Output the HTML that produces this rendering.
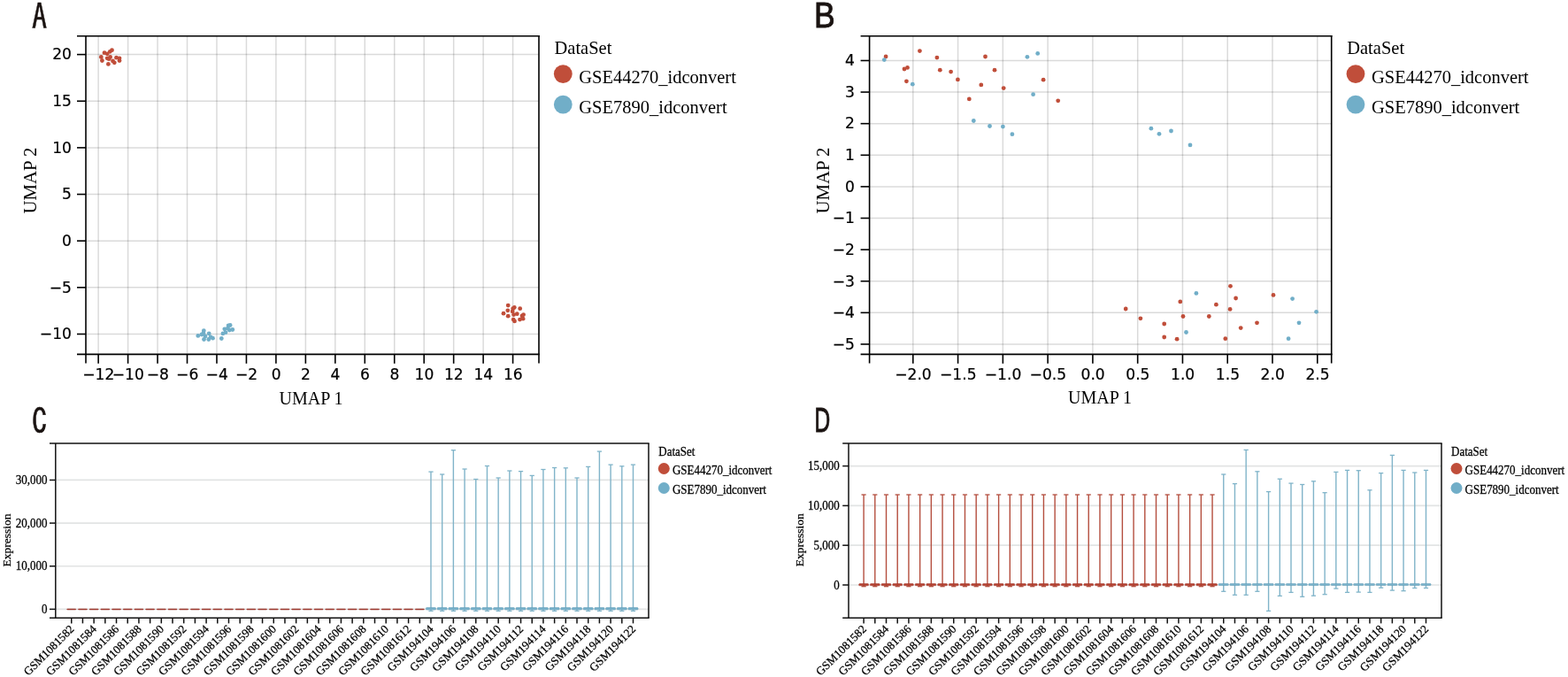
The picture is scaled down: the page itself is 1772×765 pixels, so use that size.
<!DOCTYPE html>
<html><head><meta charset="utf-8"><title>Figure</title>
<style>
html,body{margin:0;padding:0;background:#fff;}
svg{display:block;}
.tk{font-family:"DejaVu Sans",sans-serif;font-size:17.1px;fill:#000;stroke:#000;stroke-width:0.2px;}
.al{font-family:"Liberation Serif",serif;font-size:20px;fill:#000;}
.lg{font-family:"Liberation Serif",serif;font-size:20.5px;fill:#000;}
.sm{font-family:"Liberation Serif",serif;font-size:13px;fill:#000;stroke:#000;stroke-width:0.25px;}
.pl{font-family:"Liberation Sans",sans-serif;fill:#1a1311;}
</style></head>
<body>
<svg width="1772" height="765" viewBox="0 0 1772 765">
<rect width="1772" height="765" fill="#fff"/>
<line x1="111.14" y1="40.70" x2="111.14" y2="400.40" stroke="rgba(0,0,0,0.145)" stroke-width="1.5"/>
<line x1="144.60" y1="40.70" x2="144.60" y2="400.40" stroke="rgba(0,0,0,0.145)" stroke-width="1.5"/>
<line x1="178.06" y1="40.70" x2="178.06" y2="400.40" stroke="rgba(0,0,0,0.145)" stroke-width="1.5"/>
<line x1="211.52" y1="40.70" x2="211.52" y2="400.40" stroke="rgba(0,0,0,0.145)" stroke-width="1.5"/>
<line x1="244.98" y1="40.70" x2="244.98" y2="400.40" stroke="rgba(0,0,0,0.145)" stroke-width="1.5"/>
<line x1="278.44" y1="40.70" x2="278.44" y2="400.40" stroke="rgba(0,0,0,0.145)" stroke-width="1.5"/>
<line x1="311.90" y1="40.70" x2="311.90" y2="400.40" stroke="rgba(0,0,0,0.145)" stroke-width="1.5"/>
<line x1="345.36" y1="40.70" x2="345.36" y2="400.40" stroke="rgba(0,0,0,0.145)" stroke-width="1.5"/>
<line x1="378.82" y1="40.70" x2="378.82" y2="400.40" stroke="rgba(0,0,0,0.145)" stroke-width="1.5"/>
<line x1="412.28" y1="40.70" x2="412.28" y2="400.40" stroke="rgba(0,0,0,0.145)" stroke-width="1.5"/>
<line x1="445.74" y1="40.70" x2="445.74" y2="400.40" stroke="rgba(0,0,0,0.145)" stroke-width="1.5"/>
<line x1="479.20" y1="40.70" x2="479.20" y2="400.40" stroke="rgba(0,0,0,0.145)" stroke-width="1.5"/>
<line x1="512.66" y1="40.70" x2="512.66" y2="400.40" stroke="rgba(0,0,0,0.145)" stroke-width="1.5"/>
<line x1="546.12" y1="40.70" x2="546.12" y2="400.40" stroke="rgba(0,0,0,0.145)" stroke-width="1.5"/>
<line x1="579.58" y1="40.70" x2="579.58" y2="400.40" stroke="rgba(0,0,0,0.145)" stroke-width="1.5"/>
<line x1="97.00" y1="377.50" x2="609.00" y2="377.50" stroke="rgba(0,0,0,0.145)" stroke-width="1.5"/>
<line x1="97.00" y1="324.85" x2="609.00" y2="324.85" stroke="rgba(0,0,0,0.145)" stroke-width="1.5"/>
<line x1="97.00" y1="272.20" x2="609.00" y2="272.20" stroke="rgba(0,0,0,0.145)" stroke-width="1.5"/>
<line x1="97.00" y1="219.55" x2="609.00" y2="219.55" stroke="rgba(0,0,0,0.145)" stroke-width="1.5"/>
<line x1="97.00" y1="166.90" x2="609.00" y2="166.90" stroke="rgba(0,0,0,0.145)" stroke-width="1.5"/>
<line x1="97.00" y1="114.25" x2="609.00" y2="114.25" stroke="rgba(0,0,0,0.145)" stroke-width="1.5"/>
<line x1="97.00" y1="61.60" x2="609.00" y2="61.60" stroke="rgba(0,0,0,0.145)" stroke-width="1.5"/>
<circle cx="124.30" cy="58.30" r="2.4" fill="#C04E3A"/>
<circle cx="126.50" cy="56.70" r="2.4" fill="#C04E3A"/>
<circle cx="118.00" cy="59.70" r="2.4" fill="#C04E3A"/>
<circle cx="121.20" cy="60.80" r="2.4" fill="#C04E3A"/>
<circle cx="114.30" cy="64.40" r="2.4" fill="#C04E3A"/>
<circle cx="115.40" cy="68.50" r="2.4" fill="#C04E3A"/>
<circle cx="121.20" cy="65.80" r="2.4" fill="#C04E3A"/>
<circle cx="124.60" cy="64.50" r="2.4" fill="#C04E3A"/>
<circle cx="123.10" cy="66.70" r="2.4" fill="#C04E3A"/>
<circle cx="127.50" cy="68.90" r="2.4" fill="#C04E3A"/>
<circle cx="129.30" cy="70.80" r="2.4" fill="#C04E3A"/>
<circle cx="131.50" cy="65.20" r="2.4" fill="#C04E3A"/>
<circle cx="135.00" cy="65.80" r="2.4" fill="#C04E3A"/>
<circle cx="135.00" cy="68.60" r="2.4" fill="#C04E3A"/>
<circle cx="122.40" cy="72.40" r="2.4" fill="#C04E3A"/>
<circle cx="574.20" cy="345.10" r="2.4" fill="#C04E3A"/>
<circle cx="573.80" cy="350.80" r="2.4" fill="#C04E3A"/>
<circle cx="569.00" cy="354.20" r="2.4" fill="#C04E3A"/>
<circle cx="574.20" cy="357.20" r="2.4" fill="#C04E3A"/>
<circle cx="579.70" cy="348.70" r="2.4" fill="#C04E3A"/>
<circle cx="581.30" cy="347.40" r="2.4" fill="#C04E3A"/>
<circle cx="579.20" cy="351.90" r="2.4" fill="#C04E3A"/>
<circle cx="580.60" cy="355.60" r="2.4" fill="#C04E3A"/>
<circle cx="584.30" cy="354.70" r="2.4" fill="#C04E3A"/>
<circle cx="580.20" cy="361.10" r="2.4" fill="#C04E3A"/>
<circle cx="581.50" cy="362.90" r="2.4" fill="#C04E3A"/>
<circle cx="587.70" cy="348.70" r="2.4" fill="#C04E3A"/>
<circle cx="591.60" cy="355.60" r="2.4" fill="#C04E3A"/>
<circle cx="587.50" cy="361.10" r="2.4" fill="#C04E3A"/>
<circle cx="591.10" cy="360.20" r="2.4" fill="#C04E3A"/>
<circle cx="590.00" cy="357.00" r="2.4" fill="#C04E3A"/>
<circle cx="223.80" cy="379.40" r="2.4" fill="#71AEC8"/>
<circle cx="230.30" cy="373.70" r="2.4" fill="#71AEC8"/>
<circle cx="229.90" cy="376.50" r="2.4" fill="#71AEC8"/>
<circle cx="230.50" cy="383.50" r="2.4" fill="#71AEC8"/>
<circle cx="232.00" cy="380.00" r="2.4" fill="#71AEC8"/>
<circle cx="236.20" cy="376.90" r="2.4" fill="#71AEC8"/>
<circle cx="235.80" cy="383.50" r="2.4" fill="#71AEC8"/>
<circle cx="240.50" cy="382.20" r="2.4" fill="#71AEC8"/>
<circle cx="238.10" cy="380.80" r="2.4" fill="#71AEC8"/>
<circle cx="250.30" cy="382.50" r="2.4" fill="#71AEC8"/>
<circle cx="251.90" cy="376.90" r="2.4" fill="#71AEC8"/>
<circle cx="253.80" cy="371.80" r="2.4" fill="#71AEC8"/>
<circle cx="255.00" cy="375.70" r="2.4" fill="#71AEC8"/>
<circle cx="258.10" cy="367.80" r="2.4" fill="#71AEC8"/>
<circle cx="260.10" cy="367.50" r="2.4" fill="#71AEC8"/>
<circle cx="259.30" cy="373.00" r="2.4" fill="#71AEC8"/>
<circle cx="262.80" cy="372.50" r="2.4" fill="#71AEC8"/>
<circle cx="257.40" cy="371.00" r="2.4" fill="#71AEC8"/>
<circle cx="228.00" cy="378.00" r="2.4" fill="#71AEC8"/>
<line x1="87.00" y1="40.70" x2="609.80" y2="40.70" stroke="#000" stroke-width="1.6"/>
<line x1="87.00" y1="400.40" x2="609.80" y2="400.40" stroke="#000" stroke-width="1.6"/>
<line x1="97.00" y1="39.90" x2="97.00" y2="410.40" stroke="#000" stroke-width="1.6"/>
<line x1="609.00" y1="39.90" x2="609.00" y2="410.40" stroke="#000" stroke-width="1.6"/>
<line x1="111.14" y1="400.40" x2="111.14" y2="410.80" stroke="#000" stroke-width="1.6"/>
<text x="111.34" y="428.50" class="tk" text-anchor="middle">−12</text>
<line x1="144.60" y1="400.40" x2="144.60" y2="410.80" stroke="#000" stroke-width="1.6"/>
<text x="144.80" y="428.50" class="tk" text-anchor="middle">−10</text>
<line x1="178.06" y1="400.40" x2="178.06" y2="410.80" stroke="#000" stroke-width="1.6"/>
<text x="178.26" y="428.50" class="tk" text-anchor="middle">−8</text>
<line x1="211.52" y1="400.40" x2="211.52" y2="410.80" stroke="#000" stroke-width="1.6"/>
<text x="211.72" y="428.50" class="tk" text-anchor="middle">−6</text>
<line x1="244.98" y1="400.40" x2="244.98" y2="410.80" stroke="#000" stroke-width="1.6"/>
<text x="245.18" y="428.50" class="tk" text-anchor="middle">−4</text>
<line x1="278.44" y1="400.40" x2="278.44" y2="410.80" stroke="#000" stroke-width="1.6"/>
<text x="278.64" y="428.50" class="tk" text-anchor="middle">−2</text>
<line x1="311.90" y1="400.40" x2="311.90" y2="410.80" stroke="#000" stroke-width="1.6"/>
<text x="312.10" y="428.50" class="tk" text-anchor="middle">0</text>
<line x1="345.36" y1="400.40" x2="345.36" y2="410.80" stroke="#000" stroke-width="1.6"/>
<text x="345.56" y="428.50" class="tk" text-anchor="middle">2</text>
<line x1="378.82" y1="400.40" x2="378.82" y2="410.80" stroke="#000" stroke-width="1.6"/>
<text x="379.02" y="428.50" class="tk" text-anchor="middle">4</text>
<line x1="412.28" y1="400.40" x2="412.28" y2="410.80" stroke="#000" stroke-width="1.6"/>
<text x="412.48" y="428.50" class="tk" text-anchor="middle">6</text>
<line x1="445.74" y1="400.40" x2="445.74" y2="410.80" stroke="#000" stroke-width="1.6"/>
<text x="445.94" y="428.50" class="tk" text-anchor="middle">8</text>
<line x1="479.20" y1="400.40" x2="479.20" y2="410.80" stroke="#000" stroke-width="1.6"/>
<text x="479.40" y="428.50" class="tk" text-anchor="middle">10</text>
<line x1="512.66" y1="400.40" x2="512.66" y2="410.80" stroke="#000" stroke-width="1.6"/>
<text x="512.86" y="428.50" class="tk" text-anchor="middle">12</text>
<line x1="546.12" y1="400.40" x2="546.12" y2="410.80" stroke="#000" stroke-width="1.6"/>
<text x="546.32" y="428.50" class="tk" text-anchor="middle">14</text>
<line x1="579.58" y1="400.40" x2="579.58" y2="410.80" stroke="#000" stroke-width="1.6"/>
<text x="579.78" y="428.50" class="tk" text-anchor="middle">16</text>
<line x1="87.00" y1="377.50" x2="97.00" y2="377.50" stroke="#000" stroke-width="1.6"/>
<text x="80.90" y="383.20" class="tk" text-anchor="end">−10</text>
<line x1="87.00" y1="324.85" x2="97.00" y2="324.85" stroke="#000" stroke-width="1.6"/>
<text x="80.90" y="330.55" class="tk" text-anchor="end">−5</text>
<line x1="87.00" y1="272.20" x2="97.00" y2="272.20" stroke="#000" stroke-width="1.6"/>
<text x="80.90" y="277.90" class="tk" text-anchor="end">0</text>
<line x1="87.00" y1="219.55" x2="97.00" y2="219.55" stroke="#000" stroke-width="1.6"/>
<text x="80.90" y="225.25" class="tk" text-anchor="end">5</text>
<line x1="87.00" y1="166.90" x2="97.00" y2="166.90" stroke="#000" stroke-width="1.6"/>
<text x="80.90" y="172.60" class="tk" text-anchor="end">10</text>
<line x1="87.00" y1="114.25" x2="97.00" y2="114.25" stroke="#000" stroke-width="1.6"/>
<text x="80.90" y="119.95" class="tk" text-anchor="end">15</text>
<line x1="87.00" y1="61.60" x2="97.00" y2="61.60" stroke="#000" stroke-width="1.6"/>
<text x="80.90" y="67.30" class="tk" text-anchor="end">20</text>
<line x1="1031.80" y1="40.70" x2="1031.80" y2="400.40" stroke="rgba(0,0,0,0.145)" stroke-width="1.5"/>
<line x1="1082.58" y1="40.70" x2="1082.58" y2="400.40" stroke="rgba(0,0,0,0.145)" stroke-width="1.5"/>
<line x1="1133.35" y1="40.70" x2="1133.35" y2="400.40" stroke="rgba(0,0,0,0.145)" stroke-width="1.5"/>
<line x1="1184.12" y1="40.70" x2="1184.12" y2="400.40" stroke="rgba(0,0,0,0.145)" stroke-width="1.5"/>
<line x1="1234.90" y1="40.70" x2="1234.90" y2="400.40" stroke="rgba(0,0,0,0.145)" stroke-width="1.5"/>
<line x1="1285.68" y1="40.70" x2="1285.68" y2="400.40" stroke="rgba(0,0,0,0.145)" stroke-width="1.5"/>
<line x1="1336.45" y1="40.70" x2="1336.45" y2="400.40" stroke="rgba(0,0,0,0.145)" stroke-width="1.5"/>
<line x1="1387.23" y1="40.70" x2="1387.23" y2="400.40" stroke="rgba(0,0,0,0.145)" stroke-width="1.5"/>
<line x1="1438.00" y1="40.70" x2="1438.00" y2="400.40" stroke="rgba(0,0,0,0.145)" stroke-width="1.5"/>
<line x1="1488.78" y1="40.70" x2="1488.78" y2="400.40" stroke="rgba(0,0,0,0.145)" stroke-width="1.5"/>
<line x1="982.60" y1="388.95" x2="1504.70" y2="388.95" stroke="rgba(0,0,0,0.145)" stroke-width="1.5"/>
<line x1="982.60" y1="353.34" x2="1504.70" y2="353.34" stroke="rgba(0,0,0,0.145)" stroke-width="1.5"/>
<line x1="982.60" y1="317.73" x2="1504.70" y2="317.73" stroke="rgba(0,0,0,0.145)" stroke-width="1.5"/>
<line x1="982.60" y1="282.12" x2="1504.70" y2="282.12" stroke="rgba(0,0,0,0.145)" stroke-width="1.5"/>
<line x1="982.60" y1="246.51" x2="1504.70" y2="246.51" stroke="rgba(0,0,0,0.145)" stroke-width="1.5"/>
<line x1="982.60" y1="210.90" x2="1504.70" y2="210.90" stroke="rgba(0,0,0,0.145)" stroke-width="1.5"/>
<line x1="982.60" y1="175.29" x2="1504.70" y2="175.29" stroke="rgba(0,0,0,0.145)" stroke-width="1.5"/>
<line x1="982.60" y1="139.68" x2="1504.70" y2="139.68" stroke="rgba(0,0,0,0.145)" stroke-width="1.5"/>
<line x1="982.60" y1="104.07" x2="1504.70" y2="104.07" stroke="rgba(0,0,0,0.145)" stroke-width="1.5"/>
<line x1="982.60" y1="68.46" x2="1504.70" y2="68.46" stroke="rgba(0,0,0,0.145)" stroke-width="1.5"/>
<circle cx="1001.10" cy="63.90" r="2.4" fill="#C04E3A"/>
<circle cx="1039.40" cy="57.60" r="2.4" fill="#C04E3A"/>
<circle cx="1058.90" cy="65.10" r="2.4" fill="#C04E3A"/>
<circle cx="1022.00" cy="78.00" r="2.4" fill="#C04E3A"/>
<circle cx="1025.50" cy="76.40" r="2.4" fill="#C04E3A"/>
<circle cx="1062.30" cy="79.20" r="2.4" fill="#C04E3A"/>
<circle cx="1074.60" cy="81.10" r="2.4" fill="#C04E3A"/>
<circle cx="1024.40" cy="91.80" r="2.4" fill="#C04E3A"/>
<circle cx="1082.40" cy="89.90" r="2.4" fill="#C04E3A"/>
<circle cx="1113.50" cy="64.00" r="2.4" fill="#C04E3A"/>
<circle cx="1124.00" cy="79.20" r="2.4" fill="#C04E3A"/>
<circle cx="1108.80" cy="95.90" r="2.4" fill="#C04E3A"/>
<circle cx="1134.20" cy="99.60" r="2.4" fill="#C04E3A"/>
<circle cx="1095.30" cy="111.90" r="2.4" fill="#C04E3A"/>
<circle cx="1179.10" cy="90.20" r="2.4" fill="#C04E3A"/>
<circle cx="1195.70" cy="113.80" r="2.4" fill="#C04E3A"/>
<circle cx="1272.20" cy="349.00" r="2.4" fill="#C04E3A"/>
<circle cx="1288.90" cy="359.80" r="2.4" fill="#C04E3A"/>
<circle cx="1315.70" cy="366.00" r="2.4" fill="#C04E3A"/>
<circle cx="1315.70" cy="381.00" r="2.4" fill="#C04E3A"/>
<circle cx="1330.10" cy="383.20" r="2.4" fill="#C04E3A"/>
<circle cx="1333.80" cy="340.90" r="2.4" fill="#C04E3A"/>
<circle cx="1337.00" cy="357.50" r="2.4" fill="#C04E3A"/>
<circle cx="1366.30" cy="357.50" r="2.4" fill="#C04E3A"/>
<circle cx="1374.40" cy="344.20" r="2.4" fill="#C04E3A"/>
<circle cx="1390.50" cy="323.30" r="2.4" fill="#C04E3A"/>
<circle cx="1396.60" cy="337.00" r="2.4" fill="#C04E3A"/>
<circle cx="1390.10" cy="349.40" r="2.4" fill="#C04E3A"/>
<circle cx="1384.80" cy="382.70" r="2.4" fill="#C04E3A"/>
<circle cx="1402.20" cy="370.60" r="2.4" fill="#C04E3A"/>
<circle cx="1420.50" cy="364.80" r="2.4" fill="#C04E3A"/>
<circle cx="1439.00" cy="333.40" r="2.4" fill="#C04E3A"/>
<circle cx="999.30" cy="67.60" r="2.4" fill="#71AEC8"/>
<circle cx="1031.30" cy="95.20" r="2.4" fill="#71AEC8"/>
<circle cx="1160.90" cy="64.30" r="2.4" fill="#71AEC8"/>
<circle cx="1172.70" cy="60.40" r="2.4" fill="#71AEC8"/>
<circle cx="1167.60" cy="106.70" r="2.4" fill="#71AEC8"/>
<circle cx="1100.30" cy="136.50" r="2.4" fill="#71AEC8"/>
<circle cx="1118.50" cy="142.50" r="2.4" fill="#71AEC8"/>
<circle cx="1133.40" cy="143.10" r="2.4" fill="#71AEC8"/>
<circle cx="1143.90" cy="151.70" r="2.4" fill="#71AEC8"/>
<circle cx="1300.90" cy="145.20" r="2.4" fill="#71AEC8"/>
<circle cx="1310.00" cy="151.30" r="2.4" fill="#71AEC8"/>
<circle cx="1323.50" cy="148.00" r="2.4" fill="#71AEC8"/>
<circle cx="1345.00" cy="163.90" r="2.4" fill="#71AEC8"/>
<circle cx="1351.90" cy="331.40" r="2.4" fill="#71AEC8"/>
<circle cx="1340.50" cy="375.50" r="2.4" fill="#71AEC8"/>
<circle cx="1460.60" cy="337.60" r="2.4" fill="#71AEC8"/>
<circle cx="1487.60" cy="352.30" r="2.4" fill="#71AEC8"/>
<circle cx="1468.00" cy="364.80" r="2.4" fill="#71AEC8"/>
<circle cx="1456.10" cy="382.70" r="2.4" fill="#71AEC8"/>
<line x1="972.60" y1="40.70" x2="1505.50" y2="40.70" stroke="#000" stroke-width="1.6"/>
<line x1="972.60" y1="400.40" x2="1505.50" y2="400.40" stroke="#000" stroke-width="1.6"/>
<line x1="982.60" y1="39.90" x2="982.60" y2="410.40" stroke="#000" stroke-width="1.6"/>
<line x1="1504.70" y1="39.90" x2="1504.70" y2="410.40" stroke="#000" stroke-width="1.6"/>
<line x1="1031.80" y1="400.40" x2="1031.80" y2="410.80" stroke="#000" stroke-width="1.6"/>
<text x="1032.00" y="428.50" class="tk" text-anchor="middle">−2.0</text>
<line x1="1082.58" y1="400.40" x2="1082.58" y2="410.80" stroke="#000" stroke-width="1.6"/>
<text x="1082.78" y="428.50" class="tk" text-anchor="middle">−1.5</text>
<line x1="1133.35" y1="400.40" x2="1133.35" y2="410.80" stroke="#000" stroke-width="1.6"/>
<text x="1133.55" y="428.50" class="tk" text-anchor="middle">−1.0</text>
<line x1="1184.12" y1="400.40" x2="1184.12" y2="410.80" stroke="#000" stroke-width="1.6"/>
<text x="1184.33" y="428.50" class="tk" text-anchor="middle">−0.5</text>
<line x1="1234.90" y1="400.40" x2="1234.90" y2="410.80" stroke="#000" stroke-width="1.6"/>
<text x="1235.10" y="428.50" class="tk" text-anchor="middle">0.0</text>
<line x1="1285.68" y1="400.40" x2="1285.68" y2="410.80" stroke="#000" stroke-width="1.6"/>
<text x="1285.88" y="428.50" class="tk" text-anchor="middle">0.5</text>
<line x1="1336.45" y1="400.40" x2="1336.45" y2="410.80" stroke="#000" stroke-width="1.6"/>
<text x="1336.65" y="428.50" class="tk" text-anchor="middle">1.0</text>
<line x1="1387.23" y1="400.40" x2="1387.23" y2="410.80" stroke="#000" stroke-width="1.6"/>
<text x="1387.43" y="428.50" class="tk" text-anchor="middle">1.5</text>
<line x1="1438.00" y1="400.40" x2="1438.00" y2="410.80" stroke="#000" stroke-width="1.6"/>
<text x="1438.20" y="428.50" class="tk" text-anchor="middle">2.0</text>
<line x1="1488.78" y1="400.40" x2="1488.78" y2="410.80" stroke="#000" stroke-width="1.6"/>
<text x="1488.98" y="428.50" class="tk" text-anchor="middle">2.5</text>
<line x1="972.60" y1="388.95" x2="982.60" y2="388.95" stroke="#000" stroke-width="1.6"/>
<text x="965.90" y="394.75" class="tk" text-anchor="end">−5</text>
<line x1="972.60" y1="353.34" x2="982.60" y2="353.34" stroke="#000" stroke-width="1.6"/>
<text x="965.90" y="359.14" class="tk" text-anchor="end">−4</text>
<line x1="972.60" y1="317.73" x2="982.60" y2="317.73" stroke="#000" stroke-width="1.6"/>
<text x="965.90" y="323.53" class="tk" text-anchor="end">−3</text>
<line x1="972.60" y1="282.12" x2="982.60" y2="282.12" stroke="#000" stroke-width="1.6"/>
<text x="965.90" y="287.92" class="tk" text-anchor="end">−2</text>
<line x1="972.60" y1="246.51" x2="982.60" y2="246.51" stroke="#000" stroke-width="1.6"/>
<text x="965.90" y="252.31" class="tk" text-anchor="end">−1</text>
<line x1="972.60" y1="210.90" x2="982.60" y2="210.90" stroke="#000" stroke-width="1.6"/>
<text x="965.90" y="216.70" class="tk" text-anchor="end">0</text>
<line x1="972.60" y1="175.29" x2="982.60" y2="175.29" stroke="#000" stroke-width="1.6"/>
<text x="965.90" y="181.09" class="tk" text-anchor="end">1</text>
<line x1="972.60" y1="139.68" x2="982.60" y2="139.68" stroke="#000" stroke-width="1.6"/>
<text x="965.90" y="145.48" class="tk" text-anchor="end">2</text>
<line x1="972.60" y1="104.07" x2="982.60" y2="104.07" stroke="#000" stroke-width="1.6"/>
<text x="965.90" y="109.87" class="tk" text-anchor="end">3</text>
<line x1="972.60" y1="68.46" x2="982.60" y2="68.46" stroke="#000" stroke-width="1.6"/>
<text x="965.90" y="74.26" class="tk" text-anchor="end">4</text>
<text x="351.60" y="456.50" class="al" text-anchor="middle">UMAP 1</text>
<text x="1243.00" y="456.20" class="al" text-anchor="middle">UMAP 1</text>
<text class="al" style="font-size:20.8px" text-anchor="middle" transform="translate(41.4,204) rotate(-90)">UMAP 2</text>
<text class="al" style="font-size:20.8px" text-anchor="middle" transform="translate(937.2,204) rotate(-90)">UMAP 2</text>
<text class="lg" transform="translate(626.50,61.40) scale(1,1.04)">DataSet</text>
<circle cx="636.30" cy="83.60" r="10.4" fill="#C04E3A"/>
<circle cx="636.30" cy="118.10" r="10.4" fill="#71AEC8"/>
<text class="lg" transform="translate(654.30,93.90) scale(1,1.045)">GSE44270_idconvert</text>
<text class="lg" transform="translate(654.30,128.30) scale(1,1.045)">GSE7890_idconvert</text>
<text class="lg" transform="translate(1522.20,61.40) scale(1,1.04)">DataSet</text>
<circle cx="1532.00" cy="83.60" r="10.4" fill="#C04E3A"/>
<circle cx="1532.00" cy="118.10" r="10.4" fill="#71AEC8"/>
<text class="lg" transform="translate(1550.00,93.90) scale(1,1.045)">GSE44270_idconvert</text>
<text class="lg" transform="translate(1550.00,128.30) scale(1,1.045)">GSE7890_idconvert</text>
<line x1="62.80" y1="688.40" x2="733.00" y2="688.40" stroke="#E2E4E4" stroke-width="1.7"/>
<line x1="62.80" y1="639.75" x2="733.00" y2="639.75" stroke="#E2E4E4" stroke-width="1.7"/>
<line x1="62.80" y1="591.10" x2="733.00" y2="591.10" stroke="#E2E4E4" stroke-width="1.7"/>
<line x1="62.80" y1="542.45" x2="733.00" y2="542.45" stroke="#E2E4E4" stroke-width="1.7"/>
<rect x="75.60" y="688.00" width="10.3" height="1.0" rx="0.8" fill="#A0372E" stroke="#9A352B" stroke-width="0.5"/>
<rect x="88.29" y="688.00" width="10.3" height="1.0" rx="0.8" fill="#A0372E" stroke="#9A352B" stroke-width="0.5"/>
<rect x="100.99" y="688.00" width="10.3" height="1.0" rx="0.8" fill="#A0372E" stroke="#9A352B" stroke-width="0.5"/>
<rect x="113.69" y="688.00" width="10.3" height="1.0" rx="0.8" fill="#A0372E" stroke="#9A352B" stroke-width="0.5"/>
<rect x="126.38" y="688.00" width="10.3" height="1.0" rx="0.8" fill="#A0372E" stroke="#9A352B" stroke-width="0.5"/>
<rect x="139.07" y="688.00" width="10.3" height="1.0" rx="0.8" fill="#A0372E" stroke="#9A352B" stroke-width="0.5"/>
<rect x="151.77" y="688.00" width="10.3" height="1.0" rx="0.8" fill="#A0372E" stroke="#9A352B" stroke-width="0.5"/>
<rect x="164.47" y="688.00" width="10.3" height="1.0" rx="0.8" fill="#A0372E" stroke="#9A352B" stroke-width="0.5"/>
<rect x="177.16" y="688.00" width="10.3" height="1.0" rx="0.8" fill="#A0372E" stroke="#9A352B" stroke-width="0.5"/>
<rect x="189.85" y="688.00" width="10.3" height="1.0" rx="0.8" fill="#A0372E" stroke="#9A352B" stroke-width="0.5"/>
<rect x="202.55" y="688.00" width="10.3" height="1.0" rx="0.8" fill="#A0372E" stroke="#9A352B" stroke-width="0.5"/>
<rect x="215.25" y="688.00" width="10.3" height="1.0" rx="0.8" fill="#A0372E" stroke="#9A352B" stroke-width="0.5"/>
<rect x="227.94" y="688.00" width="10.3" height="1.0" rx="0.8" fill="#A0372E" stroke="#9A352B" stroke-width="0.5"/>
<rect x="240.63" y="688.00" width="10.3" height="1.0" rx="0.8" fill="#A0372E" stroke="#9A352B" stroke-width="0.5"/>
<rect x="253.33" y="688.00" width="10.3" height="1.0" rx="0.8" fill="#A0372E" stroke="#9A352B" stroke-width="0.5"/>
<rect x="266.03" y="688.00" width="10.3" height="1.0" rx="0.8" fill="#A0372E" stroke="#9A352B" stroke-width="0.5"/>
<rect x="278.72" y="688.00" width="10.3" height="1.0" rx="0.8" fill="#A0372E" stroke="#9A352B" stroke-width="0.5"/>
<rect x="291.42" y="688.00" width="10.3" height="1.0" rx="0.8" fill="#A0372E" stroke="#9A352B" stroke-width="0.5"/>
<rect x="304.11" y="688.00" width="10.3" height="1.0" rx="0.8" fill="#A0372E" stroke="#9A352B" stroke-width="0.5"/>
<rect x="316.81" y="688.00" width="10.3" height="1.0" rx="0.8" fill="#A0372E" stroke="#9A352B" stroke-width="0.5"/>
<rect x="329.50" y="688.00" width="10.3" height="1.0" rx="0.8" fill="#A0372E" stroke="#9A352B" stroke-width="0.5"/>
<rect x="342.20" y="688.00" width="10.3" height="1.0" rx="0.8" fill="#A0372E" stroke="#9A352B" stroke-width="0.5"/>
<rect x="354.89" y="688.00" width="10.3" height="1.0" rx="0.8" fill="#A0372E" stroke="#9A352B" stroke-width="0.5"/>
<rect x="367.59" y="688.00" width="10.3" height="1.0" rx="0.8" fill="#A0372E" stroke="#9A352B" stroke-width="0.5"/>
<rect x="380.28" y="688.00" width="10.3" height="1.0" rx="0.8" fill="#A0372E" stroke="#9A352B" stroke-width="0.5"/>
<rect x="392.98" y="688.00" width="10.3" height="1.0" rx="0.8" fill="#A0372E" stroke="#9A352B" stroke-width="0.5"/>
<rect x="405.67" y="688.00" width="10.3" height="1.0" rx="0.8" fill="#A0372E" stroke="#9A352B" stroke-width="0.5"/>
<rect x="418.37" y="688.00" width="10.3" height="1.0" rx="0.8" fill="#A0372E" stroke="#9A352B" stroke-width="0.5"/>
<rect x="431.06" y="688.00" width="10.3" height="1.0" rx="0.8" fill="#A0372E" stroke="#9A352B" stroke-width="0.5"/>
<rect x="443.76" y="688.00" width="10.3" height="1.0" rx="0.8" fill="#A0372E" stroke="#9A352B" stroke-width="0.5"/>
<rect x="456.45" y="688.00" width="10.3" height="1.0" rx="0.8" fill="#A0372E" stroke="#9A352B" stroke-width="0.5"/>
<rect x="469.15" y="688.00" width="10.3" height="1.0" rx="0.8" fill="#A0372E" stroke="#9A352B" stroke-width="0.5"/>
<line x1="486.99" y1="533.10" x2="486.99" y2="690.40" stroke="#80B4C9" stroke-width="1.4"/>
<line x1="484.39" y1="533.10" x2="489.59" y2="533.10" stroke="#80B4C9" stroke-width="1.3"/>
<line x1="484.39" y1="690.40" x2="489.59" y2="690.40" stroke="#80B4C9" stroke-width="1.3"/>
<rect x="481.39" y="686.60" width="11.2" height="2.4" rx="0.8" fill="#78B2CB" stroke="#5E9AB4" stroke-width="0.5"/>
<line x1="499.69" y1="536.00" x2="499.69" y2="690.40" stroke="#80B4C9" stroke-width="1.4"/>
<line x1="497.08" y1="536.00" x2="502.29" y2="536.00" stroke="#80B4C9" stroke-width="1.3"/>
<line x1="497.08" y1="690.40" x2="502.29" y2="690.40" stroke="#80B4C9" stroke-width="1.3"/>
<rect x="494.08" y="686.60" width="11.2" height="2.4" rx="0.8" fill="#78B2CB" stroke="#5E9AB4" stroke-width="0.5"/>
<line x1="512.38" y1="508.70" x2="512.38" y2="690.40" stroke="#80B4C9" stroke-width="1.4"/>
<line x1="509.78" y1="508.70" x2="514.98" y2="508.70" stroke="#80B4C9" stroke-width="1.3"/>
<line x1="509.78" y1="690.40" x2="514.98" y2="690.40" stroke="#80B4C9" stroke-width="1.3"/>
<rect x="506.78" y="686.60" width="11.2" height="2.4" rx="0.8" fill="#78B2CB" stroke="#5E9AB4" stroke-width="0.5"/>
<line x1="525.08" y1="530.00" x2="525.08" y2="690.40" stroke="#80B4C9" stroke-width="1.4"/>
<line x1="522.48" y1="530.00" x2="527.68" y2="530.00" stroke="#80B4C9" stroke-width="1.3"/>
<line x1="522.48" y1="690.40" x2="527.68" y2="690.40" stroke="#80B4C9" stroke-width="1.3"/>
<rect x="519.48" y="686.60" width="11.2" height="2.4" rx="0.8" fill="#78B2CB" stroke="#5E9AB4" stroke-width="0.5"/>
<line x1="537.77" y1="541.50" x2="537.77" y2="690.40" stroke="#80B4C9" stroke-width="1.4"/>
<line x1="535.17" y1="541.50" x2="540.37" y2="541.50" stroke="#80B4C9" stroke-width="1.3"/>
<line x1="535.17" y1="690.40" x2="540.37" y2="690.40" stroke="#80B4C9" stroke-width="1.3"/>
<rect x="532.17" y="686.60" width="11.2" height="2.4" rx="0.8" fill="#78B2CB" stroke="#5E9AB4" stroke-width="0.5"/>
<line x1="550.47" y1="526.50" x2="550.47" y2="690.40" stroke="#80B4C9" stroke-width="1.4"/>
<line x1="547.87" y1="526.50" x2="553.07" y2="526.50" stroke="#80B4C9" stroke-width="1.3"/>
<line x1="547.87" y1="690.40" x2="553.07" y2="690.40" stroke="#80B4C9" stroke-width="1.3"/>
<rect x="544.87" y="686.60" width="11.2" height="2.4" rx="0.8" fill="#78B2CB" stroke="#5E9AB4" stroke-width="0.5"/>
<line x1="563.16" y1="540.00" x2="563.16" y2="690.40" stroke="#80B4C9" stroke-width="1.4"/>
<line x1="560.56" y1="540.00" x2="565.76" y2="540.00" stroke="#80B4C9" stroke-width="1.3"/>
<line x1="560.56" y1="690.40" x2="565.76" y2="690.40" stroke="#80B4C9" stroke-width="1.3"/>
<rect x="557.56" y="686.60" width="11.2" height="2.4" rx="0.8" fill="#78B2CB" stroke="#5E9AB4" stroke-width="0.5"/>
<line x1="575.86" y1="532.00" x2="575.86" y2="690.40" stroke="#80B4C9" stroke-width="1.4"/>
<line x1="573.25" y1="532.00" x2="578.46" y2="532.00" stroke="#80B4C9" stroke-width="1.3"/>
<line x1="573.25" y1="690.40" x2="578.46" y2="690.40" stroke="#80B4C9" stroke-width="1.3"/>
<rect x="570.25" y="686.60" width="11.2" height="2.4" rx="0.8" fill="#78B2CB" stroke="#5E9AB4" stroke-width="0.5"/>
<line x1="588.55" y1="532.60" x2="588.55" y2="690.40" stroke="#80B4C9" stroke-width="1.4"/>
<line x1="585.95" y1="532.60" x2="591.15" y2="532.60" stroke="#80B4C9" stroke-width="1.3"/>
<line x1="585.95" y1="690.40" x2="591.15" y2="690.40" stroke="#80B4C9" stroke-width="1.3"/>
<rect x="582.95" y="686.60" width="11.2" height="2.4" rx="0.8" fill="#78B2CB" stroke="#5E9AB4" stroke-width="0.5"/>
<line x1="601.25" y1="537.40" x2="601.25" y2="690.40" stroke="#80B4C9" stroke-width="1.4"/>
<line x1="598.64" y1="537.40" x2="603.85" y2="537.40" stroke="#80B4C9" stroke-width="1.3"/>
<line x1="598.64" y1="690.40" x2="603.85" y2="690.40" stroke="#80B4C9" stroke-width="1.3"/>
<rect x="595.64" y="686.60" width="11.2" height="2.4" rx="0.8" fill="#78B2CB" stroke="#5E9AB4" stroke-width="0.5"/>
<line x1="613.94" y1="530.50" x2="613.94" y2="690.40" stroke="#80B4C9" stroke-width="1.4"/>
<line x1="611.34" y1="530.50" x2="616.54" y2="530.50" stroke="#80B4C9" stroke-width="1.3"/>
<line x1="611.34" y1="690.40" x2="616.54" y2="690.40" stroke="#80B4C9" stroke-width="1.3"/>
<rect x="608.34" y="686.60" width="11.2" height="2.4" rx="0.8" fill="#78B2CB" stroke="#5E9AB4" stroke-width="0.5"/>
<line x1="626.63" y1="528.50" x2="626.63" y2="690.40" stroke="#80B4C9" stroke-width="1.4"/>
<line x1="624.03" y1="528.50" x2="629.24" y2="528.50" stroke="#80B4C9" stroke-width="1.3"/>
<line x1="624.03" y1="690.40" x2="629.24" y2="690.40" stroke="#80B4C9" stroke-width="1.3"/>
<rect x="621.03" y="686.60" width="11.2" height="2.4" rx="0.8" fill="#78B2CB" stroke="#5E9AB4" stroke-width="0.5"/>
<line x1="639.33" y1="528.80" x2="639.33" y2="690.40" stroke="#80B4C9" stroke-width="1.4"/>
<line x1="636.73" y1="528.80" x2="641.93" y2="528.80" stroke="#80B4C9" stroke-width="1.3"/>
<line x1="636.73" y1="690.40" x2="641.93" y2="690.40" stroke="#80B4C9" stroke-width="1.3"/>
<rect x="633.73" y="686.60" width="11.2" height="2.4" rx="0.8" fill="#78B2CB" stroke="#5E9AB4" stroke-width="0.5"/>
<line x1="652.02" y1="540.00" x2="652.02" y2="690.40" stroke="#80B4C9" stroke-width="1.4"/>
<line x1="649.42" y1="540.00" x2="654.62" y2="540.00" stroke="#80B4C9" stroke-width="1.3"/>
<line x1="649.42" y1="690.40" x2="654.62" y2="690.40" stroke="#80B4C9" stroke-width="1.3"/>
<rect x="646.42" y="686.60" width="11.2" height="2.4" rx="0.8" fill="#78B2CB" stroke="#5E9AB4" stroke-width="0.5"/>
<line x1="664.72" y1="527.40" x2="664.72" y2="690.40" stroke="#80B4C9" stroke-width="1.4"/>
<line x1="662.12" y1="527.40" x2="667.32" y2="527.40" stroke="#80B4C9" stroke-width="1.3"/>
<line x1="662.12" y1="690.40" x2="667.32" y2="690.40" stroke="#80B4C9" stroke-width="1.3"/>
<rect x="659.12" y="686.60" width="11.2" height="2.4" rx="0.8" fill="#78B2CB" stroke="#5E9AB4" stroke-width="0.5"/>
<line x1="677.41" y1="510.10" x2="677.41" y2="690.40" stroke="#80B4C9" stroke-width="1.4"/>
<line x1="674.81" y1="510.10" x2="680.01" y2="510.10" stroke="#80B4C9" stroke-width="1.3"/>
<line x1="674.81" y1="690.40" x2="680.01" y2="690.40" stroke="#80B4C9" stroke-width="1.3"/>
<rect x="671.81" y="686.60" width="11.2" height="2.4" rx="0.8" fill="#78B2CB" stroke="#5E9AB4" stroke-width="0.5"/>
<line x1="690.11" y1="525.10" x2="690.11" y2="690.40" stroke="#80B4C9" stroke-width="1.4"/>
<line x1="687.51" y1="525.10" x2="692.71" y2="525.10" stroke="#80B4C9" stroke-width="1.3"/>
<line x1="687.51" y1="690.40" x2="692.71" y2="690.40" stroke="#80B4C9" stroke-width="1.3"/>
<rect x="684.51" y="686.60" width="11.2" height="2.4" rx="0.8" fill="#78B2CB" stroke="#5E9AB4" stroke-width="0.5"/>
<line x1="702.81" y1="526.80" x2="702.81" y2="690.40" stroke="#80B4C9" stroke-width="1.4"/>
<line x1="700.21" y1="526.80" x2="705.41" y2="526.80" stroke="#80B4C9" stroke-width="1.3"/>
<line x1="700.21" y1="690.40" x2="705.41" y2="690.40" stroke="#80B4C9" stroke-width="1.3"/>
<rect x="697.21" y="686.60" width="11.2" height="2.4" rx="0.8" fill="#78B2CB" stroke="#5E9AB4" stroke-width="0.5"/>
<line x1="715.50" y1="525.10" x2="715.50" y2="690.40" stroke="#80B4C9" stroke-width="1.4"/>
<line x1="712.90" y1="525.10" x2="718.10" y2="525.10" stroke="#80B4C9" stroke-width="1.3"/>
<line x1="712.90" y1="690.40" x2="718.10" y2="690.40" stroke="#80B4C9" stroke-width="1.3"/>
<rect x="709.90" y="686.60" width="11.2" height="2.4" rx="0.8" fill="#78B2CB" stroke="#5E9AB4" stroke-width="0.5"/>
<line x1="56.00" y1="501.00" x2="733.70" y2="501.00" stroke="#111" stroke-width="1.5"/>
<line x1="56.00" y1="698.20" x2="733.70" y2="698.20" stroke="#111" stroke-width="1.5"/>
<line x1="62.80" y1="501.00" x2="62.80" y2="698.20" stroke="#111" stroke-width="1.5"/>
<line x1="733.00" y1="501.00" x2="733.00" y2="698.20" stroke="#111" stroke-width="1.5"/>
<line x1="56.00" y1="688.40" x2="62.80" y2="688.40" stroke="#111" stroke-width="1.5"/>
<text class="sm" text-anchor="end" transform="translate(53.40,692.90) scale(1,1.15)">0</text>
<line x1="56.00" y1="639.75" x2="62.80" y2="639.75" stroke="#111" stroke-width="1.5"/>
<text class="sm" text-anchor="end" transform="translate(53.40,644.25) scale(1,1.15)">10,000</text>
<line x1="56.00" y1="591.10" x2="62.80" y2="591.10" stroke="#111" stroke-width="1.5"/>
<text class="sm" text-anchor="end" transform="translate(53.40,595.60) scale(1,1.15)">20,000</text>
<line x1="56.00" y1="542.45" x2="62.80" y2="542.45" stroke="#111" stroke-width="1.5"/>
<text class="sm" text-anchor="end" transform="translate(53.40,546.95) scale(1,1.15)">30,000</text>
<line x1="80.75" y1="698.20" x2="80.75" y2="704.40" stroke="#111" stroke-width="1.5"/>
<line x1="93.44" y1="698.20" x2="93.44" y2="704.40" stroke="#111" stroke-width="1.5"/>
<line x1="106.14" y1="698.20" x2="106.14" y2="704.40" stroke="#111" stroke-width="1.5"/>
<line x1="118.84" y1="698.20" x2="118.84" y2="704.40" stroke="#111" stroke-width="1.5"/>
<line x1="131.53" y1="698.20" x2="131.53" y2="704.40" stroke="#111" stroke-width="1.5"/>
<line x1="144.22" y1="698.20" x2="144.22" y2="704.40" stroke="#111" stroke-width="1.5"/>
<line x1="156.92" y1="698.20" x2="156.92" y2="704.40" stroke="#111" stroke-width="1.5"/>
<line x1="169.62" y1="698.20" x2="169.62" y2="704.40" stroke="#111" stroke-width="1.5"/>
<line x1="182.31" y1="698.20" x2="182.31" y2="704.40" stroke="#111" stroke-width="1.5"/>
<line x1="195.00" y1="698.20" x2="195.00" y2="704.40" stroke="#111" stroke-width="1.5"/>
<line x1="207.70" y1="698.20" x2="207.70" y2="704.40" stroke="#111" stroke-width="1.5"/>
<line x1="220.40" y1="698.20" x2="220.40" y2="704.40" stroke="#111" stroke-width="1.5"/>
<line x1="233.09" y1="698.20" x2="233.09" y2="704.40" stroke="#111" stroke-width="1.5"/>
<line x1="245.78" y1="698.20" x2="245.78" y2="704.40" stroke="#111" stroke-width="1.5"/>
<line x1="258.48" y1="698.20" x2="258.48" y2="704.40" stroke="#111" stroke-width="1.5"/>
<line x1="271.18" y1="698.20" x2="271.18" y2="704.40" stroke="#111" stroke-width="1.5"/>
<line x1="283.87" y1="698.20" x2="283.87" y2="704.40" stroke="#111" stroke-width="1.5"/>
<line x1="296.56" y1="698.20" x2="296.56" y2="704.40" stroke="#111" stroke-width="1.5"/>
<line x1="309.26" y1="698.20" x2="309.26" y2="704.40" stroke="#111" stroke-width="1.5"/>
<line x1="321.96" y1="698.20" x2="321.96" y2="704.40" stroke="#111" stroke-width="1.5"/>
<line x1="334.65" y1="698.20" x2="334.65" y2="704.40" stroke="#111" stroke-width="1.5"/>
<line x1="347.35" y1="698.20" x2="347.35" y2="704.40" stroke="#111" stroke-width="1.5"/>
<line x1="360.04" y1="698.20" x2="360.04" y2="704.40" stroke="#111" stroke-width="1.5"/>
<line x1="372.74" y1="698.20" x2="372.74" y2="704.40" stroke="#111" stroke-width="1.5"/>
<line x1="385.43" y1="698.20" x2="385.43" y2="704.40" stroke="#111" stroke-width="1.5"/>
<line x1="398.12" y1="698.20" x2="398.12" y2="704.40" stroke="#111" stroke-width="1.5"/>
<line x1="410.82" y1="698.20" x2="410.82" y2="704.40" stroke="#111" stroke-width="1.5"/>
<line x1="423.51" y1="698.20" x2="423.51" y2="704.40" stroke="#111" stroke-width="1.5"/>
<line x1="436.21" y1="698.20" x2="436.21" y2="704.40" stroke="#111" stroke-width="1.5"/>
<line x1="448.91" y1="698.20" x2="448.91" y2="704.40" stroke="#111" stroke-width="1.5"/>
<line x1="461.60" y1="698.20" x2="461.60" y2="704.40" stroke="#111" stroke-width="1.5"/>
<line x1="474.30" y1="698.20" x2="474.30" y2="704.40" stroke="#111" stroke-width="1.5"/>
<line x1="486.99" y1="698.20" x2="486.99" y2="704.40" stroke="#111" stroke-width="1.5"/>
<line x1="499.69" y1="698.20" x2="499.69" y2="704.40" stroke="#111" stroke-width="1.5"/>
<line x1="512.38" y1="698.20" x2="512.38" y2="704.40" stroke="#111" stroke-width="1.5"/>
<line x1="525.08" y1="698.20" x2="525.08" y2="704.40" stroke="#111" stroke-width="1.5"/>
<line x1="537.77" y1="698.20" x2="537.77" y2="704.40" stroke="#111" stroke-width="1.5"/>
<line x1="550.47" y1="698.20" x2="550.47" y2="704.40" stroke="#111" stroke-width="1.5"/>
<line x1="563.16" y1="698.20" x2="563.16" y2="704.40" stroke="#111" stroke-width="1.5"/>
<line x1="575.86" y1="698.20" x2="575.86" y2="704.40" stroke="#111" stroke-width="1.5"/>
<line x1="588.55" y1="698.20" x2="588.55" y2="704.40" stroke="#111" stroke-width="1.5"/>
<line x1="601.25" y1="698.20" x2="601.25" y2="704.40" stroke="#111" stroke-width="1.5"/>
<line x1="613.94" y1="698.20" x2="613.94" y2="704.40" stroke="#111" stroke-width="1.5"/>
<line x1="626.63" y1="698.20" x2="626.63" y2="704.40" stroke="#111" stroke-width="1.5"/>
<line x1="639.33" y1="698.20" x2="639.33" y2="704.40" stroke="#111" stroke-width="1.5"/>
<line x1="652.02" y1="698.20" x2="652.02" y2="704.40" stroke="#111" stroke-width="1.5"/>
<line x1="664.72" y1="698.20" x2="664.72" y2="704.40" stroke="#111" stroke-width="1.5"/>
<line x1="677.41" y1="698.20" x2="677.41" y2="704.40" stroke="#111" stroke-width="1.5"/>
<line x1="690.11" y1="698.20" x2="690.11" y2="704.40" stroke="#111" stroke-width="1.5"/>
<line x1="702.81" y1="698.20" x2="702.81" y2="704.40" stroke="#111" stroke-width="1.5"/>
<line x1="715.50" y1="698.20" x2="715.50" y2="704.40" stroke="#111" stroke-width="1.5"/>
<text class="sm" transform="translate(744.30,514.70) scale(1,1.05)">DataSet</text>
<circle cx="750.30" cy="529.50" r="6.5" fill="#C04E3A"/>
<circle cx="750.30" cy="551.50" r="6.5" fill="#71AEC8"/>
<text class="sm" transform="translate(759.90,536.00) scale(1,1.05)">GSE44270_idconvert</text>
<text class="sm" transform="translate(759.90,557.50) scale(1,1.05)">GSE7890_idconvert</text>
<text class="sm" style="font-size:13.1px" text-anchor="end" transform="translate(84.45,711.6) rotate(-45)">GSM1081582</text>
<text class="sm" style="font-size:13.1px" text-anchor="end" transform="translate(109.84,711.6) rotate(-45)">GSM1081584</text>
<text class="sm" style="font-size:13.1px" text-anchor="end" transform="translate(135.23,711.6) rotate(-45)">GSM1081586</text>
<text class="sm" style="font-size:13.1px" text-anchor="end" transform="translate(160.62,711.6) rotate(-45)">GSM1081588</text>
<text class="sm" style="font-size:13.1px" text-anchor="end" transform="translate(186.01,711.6) rotate(-45)">GSM1081590</text>
<text class="sm" style="font-size:13.1px" text-anchor="end" transform="translate(211.40,711.6) rotate(-45)">GSM1081592</text>
<text class="sm" style="font-size:13.1px" text-anchor="end" transform="translate(236.79,711.6) rotate(-45)">GSM1081594</text>
<text class="sm" style="font-size:13.1px" text-anchor="end" transform="translate(262.18,711.6) rotate(-45)">GSM1081596</text>
<text class="sm" style="font-size:13.1px" text-anchor="end" transform="translate(287.57,711.6) rotate(-45)">GSM1081598</text>
<text class="sm" style="font-size:13.1px" text-anchor="end" transform="translate(312.96,711.6) rotate(-45)">GSM1081600</text>
<text class="sm" style="font-size:13.1px" text-anchor="end" transform="translate(338.35,711.6) rotate(-45)">GSM1081602</text>
<text class="sm" style="font-size:13.1px" text-anchor="end" transform="translate(363.74,711.6) rotate(-45)">GSM1081604</text>
<text class="sm" style="font-size:13.1px" text-anchor="end" transform="translate(389.13,711.6) rotate(-45)">GSM1081606</text>
<text class="sm" style="font-size:13.1px" text-anchor="end" transform="translate(414.52,711.6) rotate(-45)">GSM1081608</text>
<text class="sm" style="font-size:13.1px" text-anchor="end" transform="translate(439.91,711.6) rotate(-45)">GSM1081610</text>
<text class="sm" style="font-size:13.1px" text-anchor="end" transform="translate(465.30,711.6) rotate(-45)">GSM1081612</text>
<text class="sm" style="font-size:13.1px" text-anchor="end" transform="translate(490.69,711.6) rotate(-45)">GSM194104</text>
<text class="sm" style="font-size:13.1px" text-anchor="end" transform="translate(516.08,711.6) rotate(-45)">GSM194106</text>
<text class="sm" style="font-size:13.1px" text-anchor="end" transform="translate(541.47,711.6) rotate(-45)">GSM194108</text>
<text class="sm" style="font-size:13.1px" text-anchor="end" transform="translate(566.86,711.6) rotate(-45)">GSM194110</text>
<text class="sm" style="font-size:13.1px" text-anchor="end" transform="translate(592.25,711.6) rotate(-45)">GSM194112</text>
<text class="sm" style="font-size:13.1px" text-anchor="end" transform="translate(617.64,711.6) rotate(-45)">GSM194114</text>
<text class="sm" style="font-size:13.1px" text-anchor="end" transform="translate(643.03,711.6) rotate(-45)">GSM194116</text>
<text class="sm" style="font-size:13.1px" text-anchor="end" transform="translate(668.42,711.6) rotate(-45)">GSM194118</text>
<text class="sm" style="font-size:13.1px" text-anchor="end" transform="translate(693.81,711.6) rotate(-45)">GSM194120</text>
<text class="sm" style="font-size:13.1px" text-anchor="end" transform="translate(719.20,711.6) rotate(-45)">GSM194122</text>
<text class="sm" style="font-size:13.5px" text-anchor="middle" transform="translate(12.3,610.4) rotate(-90)">Expression</text>
<line x1="959.00" y1="661.00" x2="1629.00" y2="661.00" stroke="#E2E4E4" stroke-width="1.7"/>
<line x1="959.00" y1="616.20" x2="1629.00" y2="616.20" stroke="#E2E4E4" stroke-width="1.7"/>
<line x1="959.00" y1="571.40" x2="1629.00" y2="571.40" stroke="#E2E4E4" stroke-width="1.7"/>
<line x1="959.00" y1="526.60" x2="1629.00" y2="526.60" stroke="#E2E4E4" stroke-width="1.7"/>
<line x1="976.10" y1="559.00" x2="976.10" y2="662.70" stroke="#B44E3E" stroke-width="1.4"/>
<line x1="973.50" y1="559.00" x2="978.70" y2="559.00" stroke="#B44E3E" stroke-width="1.3"/>
<line x1="973.50" y1="662.70" x2="978.70" y2="662.70" stroke="#B44E3E" stroke-width="1.3"/>
<rect x="970.65" y="659.60" width="10.9" height="2.2" rx="0.8" fill="#B8412F" stroke="#9A352B" stroke-width="0.5"/>
<line x1="988.81" y1="559.00" x2="988.81" y2="662.70" stroke="#B44E3E" stroke-width="1.4"/>
<line x1="986.21" y1="559.00" x2="991.41" y2="559.00" stroke="#B44E3E" stroke-width="1.3"/>
<line x1="986.21" y1="662.70" x2="991.41" y2="662.70" stroke="#B44E3E" stroke-width="1.3"/>
<rect x="983.36" y="659.60" width="10.9" height="2.2" rx="0.8" fill="#B8412F" stroke="#9A352B" stroke-width="0.5"/>
<line x1="1001.52" y1="559.00" x2="1001.52" y2="662.70" stroke="#B44E3E" stroke-width="1.4"/>
<line x1="998.92" y1="559.00" x2="1004.12" y2="559.00" stroke="#B44E3E" stroke-width="1.3"/>
<line x1="998.92" y1="662.70" x2="1004.12" y2="662.70" stroke="#B44E3E" stroke-width="1.3"/>
<rect x="996.07" y="659.60" width="10.9" height="2.2" rx="0.8" fill="#B8412F" stroke="#9A352B" stroke-width="0.5"/>
<line x1="1014.22" y1="559.00" x2="1014.22" y2="662.70" stroke="#B44E3E" stroke-width="1.4"/>
<line x1="1011.62" y1="559.00" x2="1016.82" y2="559.00" stroke="#B44E3E" stroke-width="1.3"/>
<line x1="1011.62" y1="662.70" x2="1016.82" y2="662.70" stroke="#B44E3E" stroke-width="1.3"/>
<rect x="1008.77" y="659.60" width="10.9" height="2.2" rx="0.8" fill="#B8412F" stroke="#9A352B" stroke-width="0.5"/>
<line x1="1026.93" y1="559.00" x2="1026.93" y2="662.70" stroke="#B44E3E" stroke-width="1.4"/>
<line x1="1024.33" y1="559.00" x2="1029.53" y2="559.00" stroke="#B44E3E" stroke-width="1.3"/>
<line x1="1024.33" y1="662.70" x2="1029.53" y2="662.70" stroke="#B44E3E" stroke-width="1.3"/>
<rect x="1021.48" y="659.60" width="10.9" height="2.2" rx="0.8" fill="#B8412F" stroke="#9A352B" stroke-width="0.5"/>
<line x1="1039.64" y1="559.00" x2="1039.64" y2="662.70" stroke="#B44E3E" stroke-width="1.4"/>
<line x1="1037.04" y1="559.00" x2="1042.24" y2="559.00" stroke="#B44E3E" stroke-width="1.3"/>
<line x1="1037.04" y1="662.70" x2="1042.24" y2="662.70" stroke="#B44E3E" stroke-width="1.3"/>
<rect x="1034.19" y="659.60" width="10.9" height="2.2" rx="0.8" fill="#B8412F" stroke="#9A352B" stroke-width="0.5"/>
<line x1="1052.35" y1="559.00" x2="1052.35" y2="662.70" stroke="#B44E3E" stroke-width="1.4"/>
<line x1="1049.75" y1="559.00" x2="1054.95" y2="559.00" stroke="#B44E3E" stroke-width="1.3"/>
<line x1="1049.75" y1="662.70" x2="1054.95" y2="662.70" stroke="#B44E3E" stroke-width="1.3"/>
<rect x="1046.90" y="659.60" width="10.9" height="2.2" rx="0.8" fill="#B8412F" stroke="#9A352B" stroke-width="0.5"/>
<line x1="1065.06" y1="559.00" x2="1065.06" y2="662.70" stroke="#B44E3E" stroke-width="1.4"/>
<line x1="1062.46" y1="559.00" x2="1067.66" y2="559.00" stroke="#B44E3E" stroke-width="1.3"/>
<line x1="1062.46" y1="662.70" x2="1067.66" y2="662.70" stroke="#B44E3E" stroke-width="1.3"/>
<rect x="1059.61" y="659.60" width="10.9" height="2.2" rx="0.8" fill="#B8412F" stroke="#9A352B" stroke-width="0.5"/>
<line x1="1077.76" y1="559.00" x2="1077.76" y2="662.70" stroke="#B44E3E" stroke-width="1.4"/>
<line x1="1075.16" y1="559.00" x2="1080.36" y2="559.00" stroke="#B44E3E" stroke-width="1.3"/>
<line x1="1075.16" y1="662.70" x2="1080.36" y2="662.70" stroke="#B44E3E" stroke-width="1.3"/>
<rect x="1072.31" y="659.60" width="10.9" height="2.2" rx="0.8" fill="#B8412F" stroke="#9A352B" stroke-width="0.5"/>
<line x1="1090.47" y1="559.00" x2="1090.47" y2="662.70" stroke="#B44E3E" stroke-width="1.4"/>
<line x1="1087.87" y1="559.00" x2="1093.07" y2="559.00" stroke="#B44E3E" stroke-width="1.3"/>
<line x1="1087.87" y1="662.70" x2="1093.07" y2="662.70" stroke="#B44E3E" stroke-width="1.3"/>
<rect x="1085.02" y="659.60" width="10.9" height="2.2" rx="0.8" fill="#B8412F" stroke="#9A352B" stroke-width="0.5"/>
<line x1="1103.18" y1="559.00" x2="1103.18" y2="662.70" stroke="#B44E3E" stroke-width="1.4"/>
<line x1="1100.58" y1="559.00" x2="1105.78" y2="559.00" stroke="#B44E3E" stroke-width="1.3"/>
<line x1="1100.58" y1="662.70" x2="1105.78" y2="662.70" stroke="#B44E3E" stroke-width="1.3"/>
<rect x="1097.73" y="659.60" width="10.9" height="2.2" rx="0.8" fill="#B8412F" stroke="#9A352B" stroke-width="0.5"/>
<line x1="1115.89" y1="559.00" x2="1115.89" y2="662.70" stroke="#B44E3E" stroke-width="1.4"/>
<line x1="1113.29" y1="559.00" x2="1118.49" y2="559.00" stroke="#B44E3E" stroke-width="1.3"/>
<line x1="1113.29" y1="662.70" x2="1118.49" y2="662.70" stroke="#B44E3E" stroke-width="1.3"/>
<rect x="1110.44" y="659.60" width="10.9" height="2.2" rx="0.8" fill="#B8412F" stroke="#9A352B" stroke-width="0.5"/>
<line x1="1128.60" y1="559.00" x2="1128.60" y2="662.70" stroke="#B44E3E" stroke-width="1.4"/>
<line x1="1126.00" y1="559.00" x2="1131.20" y2="559.00" stroke="#B44E3E" stroke-width="1.3"/>
<line x1="1126.00" y1="662.70" x2="1131.20" y2="662.70" stroke="#B44E3E" stroke-width="1.3"/>
<rect x="1123.15" y="659.60" width="10.9" height="2.2" rx="0.8" fill="#B8412F" stroke="#9A352B" stroke-width="0.5"/>
<line x1="1141.30" y1="559.00" x2="1141.30" y2="662.70" stroke="#B44E3E" stroke-width="1.4"/>
<line x1="1138.70" y1="559.00" x2="1143.90" y2="559.00" stroke="#B44E3E" stroke-width="1.3"/>
<line x1="1138.70" y1="662.70" x2="1143.90" y2="662.70" stroke="#B44E3E" stroke-width="1.3"/>
<rect x="1135.85" y="659.60" width="10.9" height="2.2" rx="0.8" fill="#B8412F" stroke="#9A352B" stroke-width="0.5"/>
<line x1="1154.01" y1="559.00" x2="1154.01" y2="662.70" stroke="#B44E3E" stroke-width="1.4"/>
<line x1="1151.41" y1="559.00" x2="1156.61" y2="559.00" stroke="#B44E3E" stroke-width="1.3"/>
<line x1="1151.41" y1="662.70" x2="1156.61" y2="662.70" stroke="#B44E3E" stroke-width="1.3"/>
<rect x="1148.56" y="659.60" width="10.9" height="2.2" rx="0.8" fill="#B8412F" stroke="#9A352B" stroke-width="0.5"/>
<line x1="1166.72" y1="559.00" x2="1166.72" y2="662.70" stroke="#B44E3E" stroke-width="1.4"/>
<line x1="1164.12" y1="559.00" x2="1169.32" y2="559.00" stroke="#B44E3E" stroke-width="1.3"/>
<line x1="1164.12" y1="662.70" x2="1169.32" y2="662.70" stroke="#B44E3E" stroke-width="1.3"/>
<rect x="1161.27" y="659.60" width="10.9" height="2.2" rx="0.8" fill="#B8412F" stroke="#9A352B" stroke-width="0.5"/>
<line x1="1179.43" y1="559.00" x2="1179.43" y2="662.70" stroke="#B44E3E" stroke-width="1.4"/>
<line x1="1176.83" y1="559.00" x2="1182.03" y2="559.00" stroke="#B44E3E" stroke-width="1.3"/>
<line x1="1176.83" y1="662.70" x2="1182.03" y2="662.70" stroke="#B44E3E" stroke-width="1.3"/>
<rect x="1173.98" y="659.60" width="10.9" height="2.2" rx="0.8" fill="#B8412F" stroke="#9A352B" stroke-width="0.5"/>
<line x1="1192.14" y1="559.00" x2="1192.14" y2="662.70" stroke="#B44E3E" stroke-width="1.4"/>
<line x1="1189.54" y1="559.00" x2="1194.74" y2="559.00" stroke="#B44E3E" stroke-width="1.3"/>
<line x1="1189.54" y1="662.70" x2="1194.74" y2="662.70" stroke="#B44E3E" stroke-width="1.3"/>
<rect x="1186.69" y="659.60" width="10.9" height="2.2" rx="0.8" fill="#B8412F" stroke="#9A352B" stroke-width="0.5"/>
<line x1="1204.84" y1="559.00" x2="1204.84" y2="662.70" stroke="#B44E3E" stroke-width="1.4"/>
<line x1="1202.24" y1="559.00" x2="1207.44" y2="559.00" stroke="#B44E3E" stroke-width="1.3"/>
<line x1="1202.24" y1="662.70" x2="1207.44" y2="662.70" stroke="#B44E3E" stroke-width="1.3"/>
<rect x="1199.39" y="659.60" width="10.9" height="2.2" rx="0.8" fill="#B8412F" stroke="#9A352B" stroke-width="0.5"/>
<line x1="1217.55" y1="559.00" x2="1217.55" y2="662.70" stroke="#B44E3E" stroke-width="1.4"/>
<line x1="1214.95" y1="559.00" x2="1220.15" y2="559.00" stroke="#B44E3E" stroke-width="1.3"/>
<line x1="1214.95" y1="662.70" x2="1220.15" y2="662.70" stroke="#B44E3E" stroke-width="1.3"/>
<rect x="1212.10" y="659.60" width="10.9" height="2.2" rx="0.8" fill="#B8412F" stroke="#9A352B" stroke-width="0.5"/>
<line x1="1230.26" y1="559.00" x2="1230.26" y2="662.70" stroke="#B44E3E" stroke-width="1.4"/>
<line x1="1227.66" y1="559.00" x2="1232.86" y2="559.00" stroke="#B44E3E" stroke-width="1.3"/>
<line x1="1227.66" y1="662.70" x2="1232.86" y2="662.70" stroke="#B44E3E" stroke-width="1.3"/>
<rect x="1224.81" y="659.60" width="10.9" height="2.2" rx="0.8" fill="#B8412F" stroke="#9A352B" stroke-width="0.5"/>
<line x1="1242.97" y1="559.00" x2="1242.97" y2="662.70" stroke="#B44E3E" stroke-width="1.4"/>
<line x1="1240.37" y1="559.00" x2="1245.57" y2="559.00" stroke="#B44E3E" stroke-width="1.3"/>
<line x1="1240.37" y1="662.70" x2="1245.57" y2="662.70" stroke="#B44E3E" stroke-width="1.3"/>
<rect x="1237.52" y="659.60" width="10.9" height="2.2" rx="0.8" fill="#B8412F" stroke="#9A352B" stroke-width="0.5"/>
<line x1="1255.68" y1="559.00" x2="1255.68" y2="662.70" stroke="#B44E3E" stroke-width="1.4"/>
<line x1="1253.08" y1="559.00" x2="1258.28" y2="559.00" stroke="#B44E3E" stroke-width="1.3"/>
<line x1="1253.08" y1="662.70" x2="1258.28" y2="662.70" stroke="#B44E3E" stroke-width="1.3"/>
<rect x="1250.23" y="659.60" width="10.9" height="2.2" rx="0.8" fill="#B8412F" stroke="#9A352B" stroke-width="0.5"/>
<line x1="1268.38" y1="559.00" x2="1268.38" y2="662.70" stroke="#B44E3E" stroke-width="1.4"/>
<line x1="1265.78" y1="559.00" x2="1270.98" y2="559.00" stroke="#B44E3E" stroke-width="1.3"/>
<line x1="1265.78" y1="662.70" x2="1270.98" y2="662.70" stroke="#B44E3E" stroke-width="1.3"/>
<rect x="1262.93" y="659.60" width="10.9" height="2.2" rx="0.8" fill="#B8412F" stroke="#9A352B" stroke-width="0.5"/>
<line x1="1281.09" y1="559.00" x2="1281.09" y2="662.70" stroke="#B44E3E" stroke-width="1.4"/>
<line x1="1278.49" y1="559.00" x2="1283.69" y2="559.00" stroke="#B44E3E" stroke-width="1.3"/>
<line x1="1278.49" y1="662.70" x2="1283.69" y2="662.70" stroke="#B44E3E" stroke-width="1.3"/>
<rect x="1275.64" y="659.60" width="10.9" height="2.2" rx="0.8" fill="#B8412F" stroke="#9A352B" stroke-width="0.5"/>
<line x1="1293.80" y1="559.00" x2="1293.80" y2="662.70" stroke="#B44E3E" stroke-width="1.4"/>
<line x1="1291.20" y1="559.00" x2="1296.40" y2="559.00" stroke="#B44E3E" stroke-width="1.3"/>
<line x1="1291.20" y1="662.70" x2="1296.40" y2="662.70" stroke="#B44E3E" stroke-width="1.3"/>
<rect x="1288.35" y="659.60" width="10.9" height="2.2" rx="0.8" fill="#B8412F" stroke="#9A352B" stroke-width="0.5"/>
<line x1="1306.51" y1="559.00" x2="1306.51" y2="662.70" stroke="#B44E3E" stroke-width="1.4"/>
<line x1="1303.91" y1="559.00" x2="1309.11" y2="559.00" stroke="#B44E3E" stroke-width="1.3"/>
<line x1="1303.91" y1="662.70" x2="1309.11" y2="662.70" stroke="#B44E3E" stroke-width="1.3"/>
<rect x="1301.06" y="659.60" width="10.9" height="2.2" rx="0.8" fill="#B8412F" stroke="#9A352B" stroke-width="0.5"/>
<line x1="1319.22" y1="559.00" x2="1319.22" y2="662.70" stroke="#B44E3E" stroke-width="1.4"/>
<line x1="1316.62" y1="559.00" x2="1321.82" y2="559.00" stroke="#B44E3E" stroke-width="1.3"/>
<line x1="1316.62" y1="662.70" x2="1321.82" y2="662.70" stroke="#B44E3E" stroke-width="1.3"/>
<rect x="1313.77" y="659.60" width="10.9" height="2.2" rx="0.8" fill="#B8412F" stroke="#9A352B" stroke-width="0.5"/>
<line x1="1331.92" y1="559.00" x2="1331.92" y2="662.70" stroke="#B44E3E" stroke-width="1.4"/>
<line x1="1329.32" y1="559.00" x2="1334.52" y2="559.00" stroke="#B44E3E" stroke-width="1.3"/>
<line x1="1329.32" y1="662.70" x2="1334.52" y2="662.70" stroke="#B44E3E" stroke-width="1.3"/>
<rect x="1326.47" y="659.60" width="10.9" height="2.2" rx="0.8" fill="#B8412F" stroke="#9A352B" stroke-width="0.5"/>
<line x1="1344.63" y1="559.00" x2="1344.63" y2="662.70" stroke="#B44E3E" stroke-width="1.4"/>
<line x1="1342.03" y1="559.00" x2="1347.23" y2="559.00" stroke="#B44E3E" stroke-width="1.3"/>
<line x1="1342.03" y1="662.70" x2="1347.23" y2="662.70" stroke="#B44E3E" stroke-width="1.3"/>
<rect x="1339.18" y="659.60" width="10.9" height="2.2" rx="0.8" fill="#B8412F" stroke="#9A352B" stroke-width="0.5"/>
<line x1="1357.34" y1="559.00" x2="1357.34" y2="662.70" stroke="#B44E3E" stroke-width="1.4"/>
<line x1="1354.74" y1="559.00" x2="1359.94" y2="559.00" stroke="#B44E3E" stroke-width="1.3"/>
<line x1="1354.74" y1="662.70" x2="1359.94" y2="662.70" stroke="#B44E3E" stroke-width="1.3"/>
<rect x="1351.89" y="659.60" width="10.9" height="2.2" rx="0.8" fill="#B8412F" stroke="#9A352B" stroke-width="0.5"/>
<line x1="1370.05" y1="559.00" x2="1370.05" y2="662.70" stroke="#B44E3E" stroke-width="1.4"/>
<line x1="1367.45" y1="559.00" x2="1372.65" y2="559.00" stroke="#B44E3E" stroke-width="1.3"/>
<line x1="1367.45" y1="662.70" x2="1372.65" y2="662.70" stroke="#B44E3E" stroke-width="1.3"/>
<rect x="1364.60" y="659.60" width="10.9" height="2.2" rx="0.8" fill="#B8412F" stroke="#9A352B" stroke-width="0.5"/>
<line x1="1382.76" y1="536.00" x2="1382.76" y2="668.30" stroke="#80B4C9" stroke-width="1.4"/>
<line x1="1380.16" y1="536.00" x2="1385.36" y2="536.00" stroke="#80B4C9" stroke-width="1.3"/>
<line x1="1380.16" y1="668.30" x2="1385.36" y2="668.30" stroke="#80B4C9" stroke-width="1.3"/>
<rect x="1377.16" y="659.45" width="11.2" height="2.1" rx="0.8" fill="#78B2CB" stroke="#5E9AB4" stroke-width="0.5"/>
<line x1="1395.46" y1="546.60" x2="1395.46" y2="672.30" stroke="#80B4C9" stroke-width="1.4"/>
<line x1="1392.86" y1="546.60" x2="1398.06" y2="546.60" stroke="#80B4C9" stroke-width="1.3"/>
<line x1="1392.86" y1="672.30" x2="1398.06" y2="672.30" stroke="#80B4C9" stroke-width="1.3"/>
<rect x="1389.86" y="659.45" width="11.2" height="2.1" rx="0.8" fill="#78B2CB" stroke="#5E9AB4" stroke-width="0.5"/>
<line x1="1408.17" y1="508.40" x2="1408.17" y2="672.30" stroke="#80B4C9" stroke-width="1.4"/>
<line x1="1405.57" y1="508.40" x2="1410.77" y2="508.40" stroke="#80B4C9" stroke-width="1.3"/>
<line x1="1405.57" y1="672.30" x2="1410.77" y2="672.30" stroke="#80B4C9" stroke-width="1.3"/>
<rect x="1402.57" y="659.45" width="11.2" height="2.1" rx="0.8" fill="#78B2CB" stroke="#5E9AB4" stroke-width="0.5"/>
<line x1="1420.88" y1="532.80" x2="1420.88" y2="668.30" stroke="#80B4C9" stroke-width="1.4"/>
<line x1="1418.28" y1="532.80" x2="1423.48" y2="532.80" stroke="#80B4C9" stroke-width="1.3"/>
<line x1="1418.28" y1="668.30" x2="1423.48" y2="668.30" stroke="#80B4C9" stroke-width="1.3"/>
<rect x="1415.28" y="659.45" width="11.2" height="2.1" rx="0.8" fill="#78B2CB" stroke="#5E9AB4" stroke-width="0.5"/>
<line x1="1433.59" y1="555.60" x2="1433.59" y2="690.40" stroke="#80B4C9" stroke-width="1.4"/>
<line x1="1430.99" y1="555.60" x2="1436.19" y2="555.60" stroke="#80B4C9" stroke-width="1.3"/>
<line x1="1430.99" y1="690.40" x2="1436.19" y2="690.40" stroke="#80B4C9" stroke-width="1.3"/>
<rect x="1427.99" y="659.45" width="11.2" height="2.1" rx="0.8" fill="#78B2CB" stroke="#5E9AB4" stroke-width="0.5"/>
<line x1="1446.30" y1="541.20" x2="1446.30" y2="673.40" stroke="#80B4C9" stroke-width="1.4"/>
<line x1="1443.70" y1="541.20" x2="1448.90" y2="541.20" stroke="#80B4C9" stroke-width="1.3"/>
<line x1="1443.70" y1="673.40" x2="1448.90" y2="673.40" stroke="#80B4C9" stroke-width="1.3"/>
<rect x="1440.70" y="659.45" width="11.2" height="2.1" rx="0.8" fill="#78B2CB" stroke="#5E9AB4" stroke-width="0.5"/>
<line x1="1459.00" y1="546.10" x2="1459.00" y2="669.40" stroke="#80B4C9" stroke-width="1.4"/>
<line x1="1456.40" y1="546.10" x2="1461.60" y2="546.10" stroke="#80B4C9" stroke-width="1.3"/>
<line x1="1456.40" y1="669.40" x2="1461.60" y2="669.40" stroke="#80B4C9" stroke-width="1.3"/>
<rect x="1453.40" y="659.45" width="11.2" height="2.1" rx="0.8" fill="#78B2CB" stroke="#5E9AB4" stroke-width="0.5"/>
<line x1="1471.71" y1="547.50" x2="1471.71" y2="674.30" stroke="#80B4C9" stroke-width="1.4"/>
<line x1="1469.11" y1="547.50" x2="1474.31" y2="547.50" stroke="#80B4C9" stroke-width="1.3"/>
<line x1="1469.11" y1="674.30" x2="1474.31" y2="674.30" stroke="#80B4C9" stroke-width="1.3"/>
<rect x="1466.11" y="659.45" width="11.2" height="2.1" rx="0.8" fill="#78B2CB" stroke="#5E9AB4" stroke-width="0.5"/>
<line x1="1484.42" y1="543.80" x2="1484.42" y2="673.20" stroke="#80B4C9" stroke-width="1.4"/>
<line x1="1481.82" y1="543.80" x2="1487.02" y2="543.80" stroke="#80B4C9" stroke-width="1.3"/>
<line x1="1481.82" y1="673.20" x2="1487.02" y2="673.20" stroke="#80B4C9" stroke-width="1.3"/>
<rect x="1478.82" y="659.45" width="11.2" height="2.1" rx="0.8" fill="#78B2CB" stroke="#5E9AB4" stroke-width="0.5"/>
<line x1="1497.13" y1="556.70" x2="1497.13" y2="671.70" stroke="#80B4C9" stroke-width="1.4"/>
<line x1="1494.53" y1="556.70" x2="1499.73" y2="556.70" stroke="#80B4C9" stroke-width="1.3"/>
<line x1="1494.53" y1="671.70" x2="1499.73" y2="671.70" stroke="#80B4C9" stroke-width="1.3"/>
<rect x="1491.53" y="659.45" width="11.2" height="2.1" rx="0.8" fill="#78B2CB" stroke="#5E9AB4" stroke-width="0.5"/>
<line x1="1509.84" y1="533.40" x2="1509.84" y2="665.10" stroke="#80B4C9" stroke-width="1.4"/>
<line x1="1507.24" y1="533.40" x2="1512.44" y2="533.40" stroke="#80B4C9" stroke-width="1.3"/>
<line x1="1507.24" y1="665.10" x2="1512.44" y2="665.10" stroke="#80B4C9" stroke-width="1.3"/>
<rect x="1504.24" y="659.45" width="11.2" height="2.1" rx="0.8" fill="#78B2CB" stroke="#5E9AB4" stroke-width="0.5"/>
<line x1="1522.54" y1="531.40" x2="1522.54" y2="669.40" stroke="#80B4C9" stroke-width="1.4"/>
<line x1="1519.94" y1="531.40" x2="1525.14" y2="531.40" stroke="#80B4C9" stroke-width="1.3"/>
<line x1="1519.94" y1="669.40" x2="1525.14" y2="669.40" stroke="#80B4C9" stroke-width="1.3"/>
<rect x="1516.94" y="659.45" width="11.2" height="2.1" rx="0.8" fill="#78B2CB" stroke="#5E9AB4" stroke-width="0.5"/>
<line x1="1535.25" y1="531.70" x2="1535.25" y2="669.10" stroke="#80B4C9" stroke-width="1.4"/>
<line x1="1532.65" y1="531.70" x2="1537.85" y2="531.70" stroke="#80B4C9" stroke-width="1.3"/>
<line x1="1532.65" y1="669.10" x2="1537.85" y2="669.10" stroke="#80B4C9" stroke-width="1.3"/>
<rect x="1529.65" y="659.45" width="11.2" height="2.1" rx="0.8" fill="#78B2CB" stroke="#5E9AB4" stroke-width="0.5"/>
<line x1="1547.96" y1="553.80" x2="1547.96" y2="669.40" stroke="#80B4C9" stroke-width="1.4"/>
<line x1="1545.36" y1="553.80" x2="1550.56" y2="553.80" stroke="#80B4C9" stroke-width="1.3"/>
<line x1="1545.36" y1="669.40" x2="1550.56" y2="669.40" stroke="#80B4C9" stroke-width="1.3"/>
<rect x="1542.36" y="659.45" width="11.2" height="2.1" rx="0.8" fill="#78B2CB" stroke="#5E9AB4" stroke-width="0.5"/>
<line x1="1560.67" y1="534.60" x2="1560.67" y2="664.20" stroke="#80B4C9" stroke-width="1.4"/>
<line x1="1558.07" y1="534.60" x2="1563.27" y2="534.60" stroke="#80B4C9" stroke-width="1.3"/>
<line x1="1558.07" y1="664.20" x2="1563.27" y2="664.20" stroke="#80B4C9" stroke-width="1.3"/>
<rect x="1555.07" y="659.45" width="11.2" height="2.1" rx="0.8" fill="#78B2CB" stroke="#5E9AB4" stroke-width="0.5"/>
<line x1="1573.38" y1="514.40" x2="1573.38" y2="667.10" stroke="#80B4C9" stroke-width="1.4"/>
<line x1="1570.78" y1="514.40" x2="1575.98" y2="514.40" stroke="#80B4C9" stroke-width="1.3"/>
<line x1="1570.78" y1="667.10" x2="1575.98" y2="667.10" stroke="#80B4C9" stroke-width="1.3"/>
<rect x="1567.78" y="659.45" width="11.2" height="2.1" rx="0.8" fill="#78B2CB" stroke="#5E9AB4" stroke-width="0.5"/>
<line x1="1586.08" y1="531.40" x2="1586.08" y2="667.70" stroke="#80B4C9" stroke-width="1.4"/>
<line x1="1583.48" y1="531.40" x2="1588.68" y2="531.40" stroke="#80B4C9" stroke-width="1.3"/>
<line x1="1583.48" y1="667.70" x2="1588.68" y2="667.70" stroke="#80B4C9" stroke-width="1.3"/>
<rect x="1580.48" y="659.45" width="11.2" height="2.1" rx="0.8" fill="#78B2CB" stroke="#5E9AB4" stroke-width="0.5"/>
<line x1="1598.79" y1="534.00" x2="1598.79" y2="664.50" stroke="#80B4C9" stroke-width="1.4"/>
<line x1="1596.19" y1="534.00" x2="1601.39" y2="534.00" stroke="#80B4C9" stroke-width="1.3"/>
<line x1="1596.19" y1="664.50" x2="1601.39" y2="664.50" stroke="#80B4C9" stroke-width="1.3"/>
<rect x="1593.19" y="659.45" width="11.2" height="2.1" rx="0.8" fill="#78B2CB" stroke="#5E9AB4" stroke-width="0.5"/>
<line x1="1611.50" y1="531.40" x2="1611.50" y2="664.50" stroke="#80B4C9" stroke-width="1.4"/>
<line x1="1608.90" y1="531.40" x2="1614.10" y2="531.40" stroke="#80B4C9" stroke-width="1.3"/>
<line x1="1608.90" y1="664.50" x2="1614.10" y2="664.50" stroke="#80B4C9" stroke-width="1.3"/>
<rect x="1605.90" y="659.45" width="11.2" height="2.1" rx="0.8" fill="#78B2CB" stroke="#5E9AB4" stroke-width="0.5"/>
<line x1="952.20" y1="501.00" x2="1629.70" y2="501.00" stroke="#111" stroke-width="1.5"/>
<line x1="952.20" y1="698.20" x2="1629.70" y2="698.20" stroke="#111" stroke-width="1.5"/>
<line x1="959.00" y1="501.00" x2="959.00" y2="698.20" stroke="#111" stroke-width="1.5"/>
<line x1="1629.00" y1="501.00" x2="1629.00" y2="698.20" stroke="#111" stroke-width="1.5"/>
<line x1="952.20" y1="661.00" x2="959.00" y2="661.00" stroke="#111" stroke-width="1.5"/>
<text class="sm" text-anchor="end" transform="translate(948.70,665.50) scale(1,1.15)">0</text>
<line x1="952.20" y1="616.20" x2="959.00" y2="616.20" stroke="#111" stroke-width="1.5"/>
<text class="sm" text-anchor="end" transform="translate(948.70,620.70) scale(1,1.15)">5,000</text>
<line x1="952.20" y1="571.40" x2="959.00" y2="571.40" stroke="#111" stroke-width="1.5"/>
<text class="sm" text-anchor="end" transform="translate(948.70,575.90) scale(1,1.15)">10,000</text>
<line x1="952.20" y1="526.60" x2="959.00" y2="526.60" stroke="#111" stroke-width="1.5"/>
<text class="sm" text-anchor="end" transform="translate(948.70,531.10) scale(1,1.15)">15,000</text>
<line x1="976.10" y1="698.20" x2="976.10" y2="704.40" stroke="#111" stroke-width="1.5"/>
<line x1="988.81" y1="698.20" x2="988.81" y2="704.40" stroke="#111" stroke-width="1.5"/>
<line x1="1001.52" y1="698.20" x2="1001.52" y2="704.40" stroke="#111" stroke-width="1.5"/>
<line x1="1014.22" y1="698.20" x2="1014.22" y2="704.40" stroke="#111" stroke-width="1.5"/>
<line x1="1026.93" y1="698.20" x2="1026.93" y2="704.40" stroke="#111" stroke-width="1.5"/>
<line x1="1039.64" y1="698.20" x2="1039.64" y2="704.40" stroke="#111" stroke-width="1.5"/>
<line x1="1052.35" y1="698.20" x2="1052.35" y2="704.40" stroke="#111" stroke-width="1.5"/>
<line x1="1065.06" y1="698.20" x2="1065.06" y2="704.40" stroke="#111" stroke-width="1.5"/>
<line x1="1077.76" y1="698.20" x2="1077.76" y2="704.40" stroke="#111" stroke-width="1.5"/>
<line x1="1090.47" y1="698.20" x2="1090.47" y2="704.40" stroke="#111" stroke-width="1.5"/>
<line x1="1103.18" y1="698.20" x2="1103.18" y2="704.40" stroke="#111" stroke-width="1.5"/>
<line x1="1115.89" y1="698.20" x2="1115.89" y2="704.40" stroke="#111" stroke-width="1.5"/>
<line x1="1128.60" y1="698.20" x2="1128.60" y2="704.40" stroke="#111" stroke-width="1.5"/>
<line x1="1141.30" y1="698.20" x2="1141.30" y2="704.40" stroke="#111" stroke-width="1.5"/>
<line x1="1154.01" y1="698.20" x2="1154.01" y2="704.40" stroke="#111" stroke-width="1.5"/>
<line x1="1166.72" y1="698.20" x2="1166.72" y2="704.40" stroke="#111" stroke-width="1.5"/>
<line x1="1179.43" y1="698.20" x2="1179.43" y2="704.40" stroke="#111" stroke-width="1.5"/>
<line x1="1192.14" y1="698.20" x2="1192.14" y2="704.40" stroke="#111" stroke-width="1.5"/>
<line x1="1204.84" y1="698.20" x2="1204.84" y2="704.40" stroke="#111" stroke-width="1.5"/>
<line x1="1217.55" y1="698.20" x2="1217.55" y2="704.40" stroke="#111" stroke-width="1.5"/>
<line x1="1230.26" y1="698.20" x2="1230.26" y2="704.40" stroke="#111" stroke-width="1.5"/>
<line x1="1242.97" y1="698.20" x2="1242.97" y2="704.40" stroke="#111" stroke-width="1.5"/>
<line x1="1255.68" y1="698.20" x2="1255.68" y2="704.40" stroke="#111" stroke-width="1.5"/>
<line x1="1268.38" y1="698.20" x2="1268.38" y2="704.40" stroke="#111" stroke-width="1.5"/>
<line x1="1281.09" y1="698.20" x2="1281.09" y2="704.40" stroke="#111" stroke-width="1.5"/>
<line x1="1293.80" y1="698.20" x2="1293.80" y2="704.40" stroke="#111" stroke-width="1.5"/>
<line x1="1306.51" y1="698.20" x2="1306.51" y2="704.40" stroke="#111" stroke-width="1.5"/>
<line x1="1319.22" y1="698.20" x2="1319.22" y2="704.40" stroke="#111" stroke-width="1.5"/>
<line x1="1331.92" y1="698.20" x2="1331.92" y2="704.40" stroke="#111" stroke-width="1.5"/>
<line x1="1344.63" y1="698.20" x2="1344.63" y2="704.40" stroke="#111" stroke-width="1.5"/>
<line x1="1357.34" y1="698.20" x2="1357.34" y2="704.40" stroke="#111" stroke-width="1.5"/>
<line x1="1370.05" y1="698.20" x2="1370.05" y2="704.40" stroke="#111" stroke-width="1.5"/>
<line x1="1382.76" y1="698.20" x2="1382.76" y2="704.40" stroke="#111" stroke-width="1.5"/>
<line x1="1395.46" y1="698.20" x2="1395.46" y2="704.40" stroke="#111" stroke-width="1.5"/>
<line x1="1408.17" y1="698.20" x2="1408.17" y2="704.40" stroke="#111" stroke-width="1.5"/>
<line x1="1420.88" y1="698.20" x2="1420.88" y2="704.40" stroke="#111" stroke-width="1.5"/>
<line x1="1433.59" y1="698.20" x2="1433.59" y2="704.40" stroke="#111" stroke-width="1.5"/>
<line x1="1446.30" y1="698.20" x2="1446.30" y2="704.40" stroke="#111" stroke-width="1.5"/>
<line x1="1459.00" y1="698.20" x2="1459.00" y2="704.40" stroke="#111" stroke-width="1.5"/>
<line x1="1471.71" y1="698.20" x2="1471.71" y2="704.40" stroke="#111" stroke-width="1.5"/>
<line x1="1484.42" y1="698.20" x2="1484.42" y2="704.40" stroke="#111" stroke-width="1.5"/>
<line x1="1497.13" y1="698.20" x2="1497.13" y2="704.40" stroke="#111" stroke-width="1.5"/>
<line x1="1509.84" y1="698.20" x2="1509.84" y2="704.40" stroke="#111" stroke-width="1.5"/>
<line x1="1522.54" y1="698.20" x2="1522.54" y2="704.40" stroke="#111" stroke-width="1.5"/>
<line x1="1535.25" y1="698.20" x2="1535.25" y2="704.40" stroke="#111" stroke-width="1.5"/>
<line x1="1547.96" y1="698.20" x2="1547.96" y2="704.40" stroke="#111" stroke-width="1.5"/>
<line x1="1560.67" y1="698.20" x2="1560.67" y2="704.40" stroke="#111" stroke-width="1.5"/>
<line x1="1573.38" y1="698.20" x2="1573.38" y2="704.40" stroke="#111" stroke-width="1.5"/>
<line x1="1586.08" y1="698.20" x2="1586.08" y2="704.40" stroke="#111" stroke-width="1.5"/>
<line x1="1598.79" y1="698.20" x2="1598.79" y2="704.40" stroke="#111" stroke-width="1.5"/>
<line x1="1611.50" y1="698.20" x2="1611.50" y2="704.40" stroke="#111" stroke-width="1.5"/>
<text class="sm" transform="translate(1640.00,514.70) scale(1,1.05)">DataSet</text>
<circle cx="1646.00" cy="529.50" r="6.5" fill="#C04E3A"/>
<circle cx="1646.00" cy="551.50" r="6.5" fill="#71AEC8"/>
<text class="sm" transform="translate(1655.60,536.00) scale(1,1.05)">GSE44270_idconvert</text>
<text class="sm" transform="translate(1655.60,557.50) scale(1,1.05)">GSE7890_idconvert</text>
<text class="sm" style="font-size:13.1px" text-anchor="end" transform="translate(979.80,711.6) rotate(-45)">GSM1081582</text>
<text class="sm" style="font-size:13.1px" text-anchor="end" transform="translate(1005.22,711.6) rotate(-45)">GSM1081584</text>
<text class="sm" style="font-size:13.1px" text-anchor="end" transform="translate(1030.63,711.6) rotate(-45)">GSM1081586</text>
<text class="sm" style="font-size:13.1px" text-anchor="end" transform="translate(1056.05,711.6) rotate(-45)">GSM1081588</text>
<text class="sm" style="font-size:13.1px" text-anchor="end" transform="translate(1081.46,711.6) rotate(-45)">GSM1081590</text>
<text class="sm" style="font-size:13.1px" text-anchor="end" transform="translate(1106.88,711.6) rotate(-45)">GSM1081592</text>
<text class="sm" style="font-size:13.1px" text-anchor="end" transform="translate(1132.30,711.6) rotate(-45)">GSM1081594</text>
<text class="sm" style="font-size:13.1px" text-anchor="end" transform="translate(1157.71,711.6) rotate(-45)">GSM1081596</text>
<text class="sm" style="font-size:13.1px" text-anchor="end" transform="translate(1183.13,711.6) rotate(-45)">GSM1081598</text>
<text class="sm" style="font-size:13.1px" text-anchor="end" transform="translate(1208.54,711.6) rotate(-45)">GSM1081600</text>
<text class="sm" style="font-size:13.1px" text-anchor="end" transform="translate(1233.96,711.6) rotate(-45)">GSM1081602</text>
<text class="sm" style="font-size:13.1px" text-anchor="end" transform="translate(1259.38,711.6) rotate(-45)">GSM1081604</text>
<text class="sm" style="font-size:13.1px" text-anchor="end" transform="translate(1284.79,711.6) rotate(-45)">GSM1081606</text>
<text class="sm" style="font-size:13.1px" text-anchor="end" transform="translate(1310.21,711.6) rotate(-45)">GSM1081608</text>
<text class="sm" style="font-size:13.1px" text-anchor="end" transform="translate(1335.62,711.6) rotate(-45)">GSM1081610</text>
<text class="sm" style="font-size:13.1px" text-anchor="end" transform="translate(1361.04,711.6) rotate(-45)">GSM1081612</text>
<text class="sm" style="font-size:13.1px" text-anchor="end" transform="translate(1386.46,711.6) rotate(-45)">GSM194104</text>
<text class="sm" style="font-size:13.1px" text-anchor="end" transform="translate(1411.87,711.6) rotate(-45)">GSM194106</text>
<text class="sm" style="font-size:13.1px" text-anchor="end" transform="translate(1437.29,711.6) rotate(-45)">GSM194108</text>
<text class="sm" style="font-size:13.1px" text-anchor="end" transform="translate(1462.70,711.6) rotate(-45)">GSM194110</text>
<text class="sm" style="font-size:13.1px" text-anchor="end" transform="translate(1488.12,711.6) rotate(-45)">GSM194112</text>
<text class="sm" style="font-size:13.1px" text-anchor="end" transform="translate(1513.54,711.6) rotate(-45)">GSM194114</text>
<text class="sm" style="font-size:13.1px" text-anchor="end" transform="translate(1538.95,711.6) rotate(-45)">GSM194116</text>
<text class="sm" style="font-size:13.1px" text-anchor="end" transform="translate(1564.37,711.6) rotate(-45)">GSM194118</text>
<text class="sm" style="font-size:13.1px" text-anchor="end" transform="translate(1589.78,711.6) rotate(-45)">GSM194120</text>
<text class="sm" style="font-size:13.1px" text-anchor="end" transform="translate(1615.20,711.6) rotate(-45)">GSM194122</text>
<text class="sm" style="font-size:13.5px" text-anchor="middle" transform="translate(907.6,610.3) rotate(-90)">Expression</text>
<text class="pl" style="font-family:'IPAGothic','Liberation Sans',sans-serif;font-size:39.7px;stroke:#1a1311;stroke-width:0.5px" transform="translate(36.00,33.20) scale(0.86,1)">A</text>
<text class="pl" style="font-family:'Liberation Sans',sans-serif;font-size:41.0px;stroke:#1a1311;stroke-width:1.0px" transform="translate(920.00,31.10) scale(0.865,1)">B</text>
<text class="pl" style="font-family:'IPAGothic','Liberation Sans',sans-serif;font-size:38.1px;stroke:#1a1311;stroke-width:0.5px" transform="translate(36.00,489.80) scale(0.91,1)">C</text>
<text class="pl" style="font-family:'Liberation Sans',sans-serif;font-size:39.2px;stroke:#1a1311;stroke-width:1.0px" transform="translate(920.60,488.30) scale(0.625,1)">D</text>
</svg>
</body></html>
